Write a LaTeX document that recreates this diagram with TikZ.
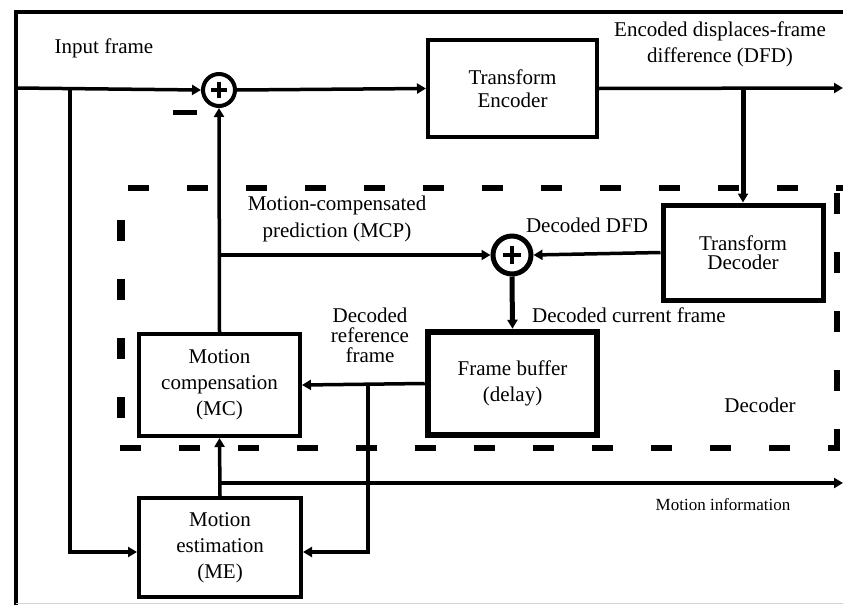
\documentclass[tikz,border=0pt]{standalone}
\usepackage{fontspec}
\setmainfont{Liberation Serif}
\usetikzlibrary{arrows.meta}
\begin{document}
\begin{tikzpicture}[x=1pt,y=-1pt,
  lbl/.style={font=\fontsize{21}{26}\selectfont, inner sep=0, align=center},
  blk/.style={draw, line width=4pt, inner sep=0, align=center, font=\fontsize{21}{26}\selectfont},
  sumc/.style={draw, circle, line width=4pt, minimum size=32pt, inner sep=0},
  conn/.style={line width=3.5pt},
  arr/.style={conn, -{Triangle[length=9pt,width=10pt]}},
  dec/.style={line width=6pt, dash pattern=on 21pt off 38pt},
  plusbar/.style={line width=3.5pt}
]
\useasboundingbox (0,0) rectangle (843,605);
\fill[white] (0,0) rectangle (843,605);
% outer frame
\draw[line width=4.5pt] (843,12) -- (16,12) -- (16,605);
\draw[gray!35, line width=1pt] (16,603) -- (843,603);

% blocks
\node[blk, minimum width=169pt, minimum height=97pt, font=\fontsize{21}{23}\selectfont] (te) at (512.5,88.5) {Transform\\Encoder};
\node[blk, line width=5pt, minimum width=160pt, minimum height=95pt, font=\fontsize{21}{19}\selectfont] (td) at (743,252.5) {Transform\\Decoder};
\node[blk, line width=6.5pt, minimum width=169pt, minimum height=103pt] (fb) at (512.5,383.5) {Frame buffer\\(delay)};
\node[blk, minimum width=161pt, minimum height=102pt] (mc) at (219.5,385) {Motion\\compensation\\(MC)};
\node[blk, minimum width=162pt, minimum height=99pt] (me) at (220,547.5) {Motion\\estimation\\(ME)};

% adders
\node[sumc] (add1) at (219,90) {};
\draw[plusbar] ([xshift=-8pt]add1.center) -- ([xshift=8pt]add1.center);
\draw[plusbar] ([yshift=-8pt]add1.center) -- ([yshift=8pt]add1.center);
\node[sumc, line width=5pt, minimum size=38pt] (add2) at (512,255) {};
\draw[plusbar] ([xshift=-9pt]add2.center) -- ([xshift=9pt]add2.center);
\draw[plusbar] ([yshift=-9pt]add2.center) -- ([yshift=9pt]add2.center);
\node[inner sep=0] (minus) at (185,112) {\rule{24pt}{5pt}};

% coordinates
\coordinate (inL) at (16,88);
\coordinate (j4) at (70,88);
\coordinate (out1) at (843,88);
\coordinate (j1) at (td.north |- te.east);
\coordinate (j2) at (mc.north |- add2.west);
\coordinate (j3) at (368,0 |- fb.west);
\coordinate (j5) at (me.north |- 0,483);
\coordinate (out2) at (843,483);

% connectors
\draw[arr] (inL) -- (add1.west);
\draw[arr] (add1.east) -- (te.west);
\draw[arr] (te.east) -- (out1);
\draw[arr, line width=5pt] (j1) -- (td.north);
\draw[arr] (td.west) -- (add2.east);
\draw[arr] (j2) -- (add2.west);
\draw[arr] (mc.north) -- (add1.south);
\draw[arr, line width=5pt] (add2.south) -- (fb.north);
\draw[arr] (fb.west) -- (mc.east);
\draw[arr] (j3) |- ([yshift=-4.5pt]me.east);
\draw[arr] (j4) |- ([yshift=-4.5pt]me.west);
\draw[arr] (me.north) -- (mc.south);
\draw[arr] (j5) -- (out2);

% decoder dashed box
\draw[dec] (128,188) -- (843,188);
\draw[dec] (837,193) -- (837,460);
\draw[dec] (120,448) -- (840,448);
\draw[dec, line width=8pt] (121,220) -- (121,420);

% labels
\node[lbl] (tin) at (104,48) {Input frame};
\node[lbl] (tenc) at (720,44) {Encoded displaces-frame\\difference (DFD)};
\node[lbl, font=\fontsize{21}{27}\selectfont] (tmcp) at (337,219) {Motion-compensated\\prediction (MCP)};
\node[lbl] (tddfd) at (587,225) {Decoded DFD};
\node[lbl] (tdcf) at (629,315) {Decoded current frame};
\node[lbl, font=\fontsize{21}{20}\selectfont] (tdrf) at (370,335) {Decoded\\reference\\frame};
\node[lbl] (tdec) at (760,405) {Decoder};
\node[lbl, font=\fontsize{17}{20}\selectfont] (tmi) at (723,505) {Motion information};
\end{tikzpicture}
\end{document}
